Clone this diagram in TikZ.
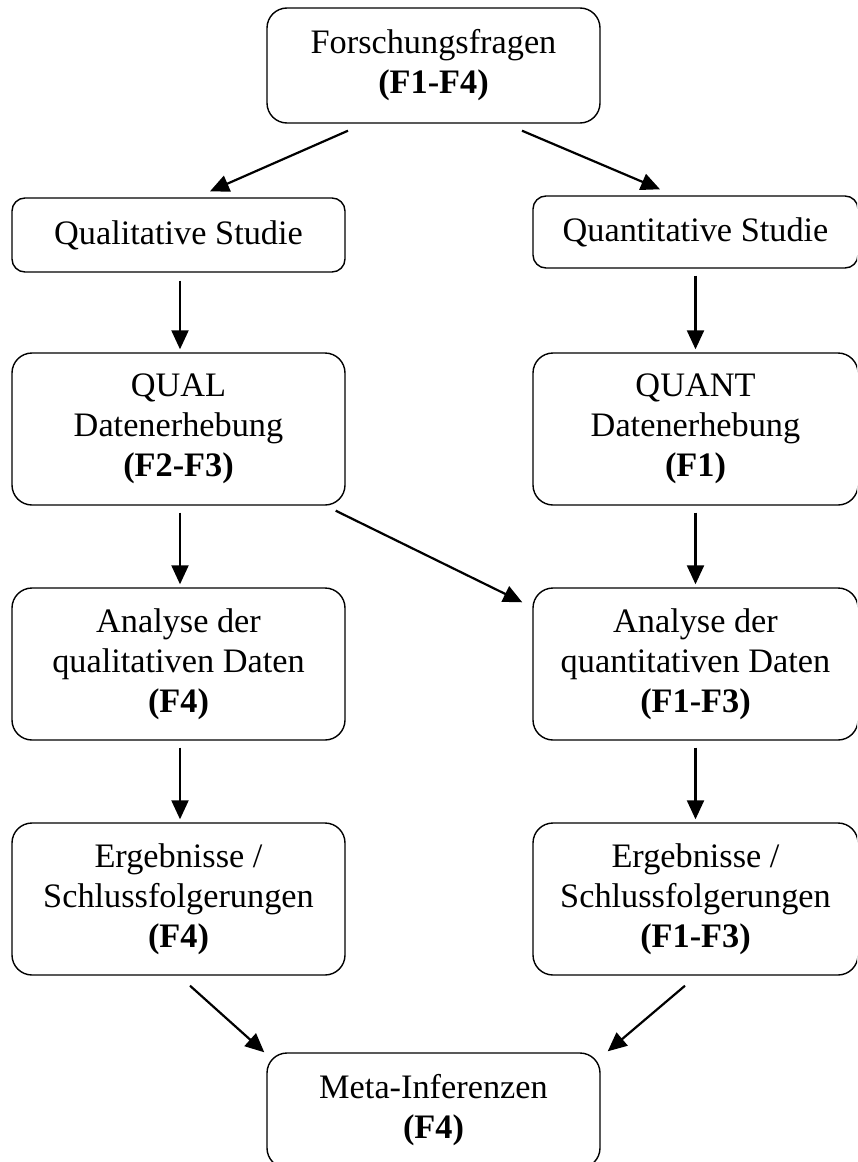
\documentclass[tikz,border=0pt]{standalone}
\usepackage{fontspec}
\setmainfont{Liberation Serif}
\usetikzlibrary{arrows.meta}

\tikzset{
  box/.style={draw, line width=1.4pt, rounded corners=20pt, align=center,
    inner sep=0pt, font=\fontsize{34.3}{40}\selectfont},
  flatbox/.style={box, rounded corners=13pt},
  arr/.style={line width=2.2pt, -{Triangle[length=19pt,width=17pt]}}
}

\begin{document}
\begin{tikzpicture}[x=1pt,y=-1pt]
  \useasboundingbox (0,0) rectangle (857,1162);
  \clip (0,0) rectangle (857,1162);

  % research questions
  \node[box, minimum width=333pt, minimum height=115pt] (top) at (433.5,65.5)
    {Forschungsfragen\\\textbf{(F1-F4)}};

  % two study strands
  \node[flatbox, minimum width=333pt, minimum height=74pt] (qual) at (178.5,235)
    {Qualitative Studie};
  \node[flatbox, minimum width=325pt, minimum height=72pt] (quant) at (695.5,232)
    {Quantitative Studie};

  % data collection
  \node[box, minimum width=333pt, minimum height=152pt] (qualdat) at (178.5,429)
    {QUAL\\Datenerhebung\\\textbf{(F2-F3)}};
  \node[box, minimum width=325pt, minimum height=152pt] (quantdat) at (695.5,429)
    {QUANT\\Datenerhebung\\\textbf{(F1)}};

  % analysis
  \node[box, minimum width=333pt, minimum height=152pt] (qualana) at (178.5,664)
    {Analyse der\\qualitativen Daten\\\textbf{(F4)}};
  \node[box, minimum width=325pt, minimum height=152pt] (quantana) at (695.5,664)
    {Analyse der\\quantitativen Daten\\\textbf{(F1-F3)}};

  % results
  \node[box, minimum width=333pt, minimum height=152pt] (qualres) at (178.5,899)
    {Ergebnisse /\\Schlussfolgerungen\\\textbf{(F4)}};
  \node[box, minimum width=325pt, minimum height=152pt] (quantres) at (695.5,899)
    {Ergebnisse /\\Schlussfolgerungen\\\textbf{(F1-F3)}};

  % integration
  \node[box, minimum width=333pt, minimum height=115pt] (meta) at (433.5,1110.5)
    {Meta-Inferenzen\\\textbf{(F4)}};

  % connectors
  \draw[arr] ([xshift=-85.5pt,yshift=-7pt]top.south) -- ([xshift=31.5pt,yshift=6pt]qual.north);
  \draw[arr] ([xshift=88.5pt,yshift=-7pt]top.south) -- ([xshift=-35.5pt,yshift=6pt]quant.north);

  \draw[arr] ([xshift=1.5pt,yshift=-8pt]qual.south) -- ([xshift=1.5pt,yshift=3pt]qualdat.north);
  \draw[arr] ([yshift=-7pt]quant.south) -- ([yshift=3pt]quantdat.north);

  \draw[arr] ([xshift=1.5pt,yshift=-7pt]qualdat.south) -- ([xshift=1.5pt,yshift=3pt]qualana.north);
  \draw[arr] ([yshift=-7pt]quantdat.south) -- ([yshift=3pt]quantana.north);
  \draw[arr] ([xshift=-10pt,yshift=-5pt]qualdat.south east) -- ([xshift=-10pt,yshift=-15pt]quantana.north west);

  \draw[arr] ([xshift=1.5pt,yshift=-7pt]qualana.south) -- ([xshift=1.5pt,yshift=3pt]qualres.north);
  \draw[arr] ([yshift=-7pt]quantana.south) -- ([yshift=3pt]quantres.north);

  \draw[arr] ([xshift=11.5pt,yshift=-10pt]qualres.south) -- ([xshift=-2pt,yshift=0pt]meta.north west);
  \draw[arr] ([xshift=-10.5pt,yshift=-10pt]quantres.south) -- ([xshift=7pt,yshift=1pt]meta.north east);
\end{tikzpicture}
\end{document}
